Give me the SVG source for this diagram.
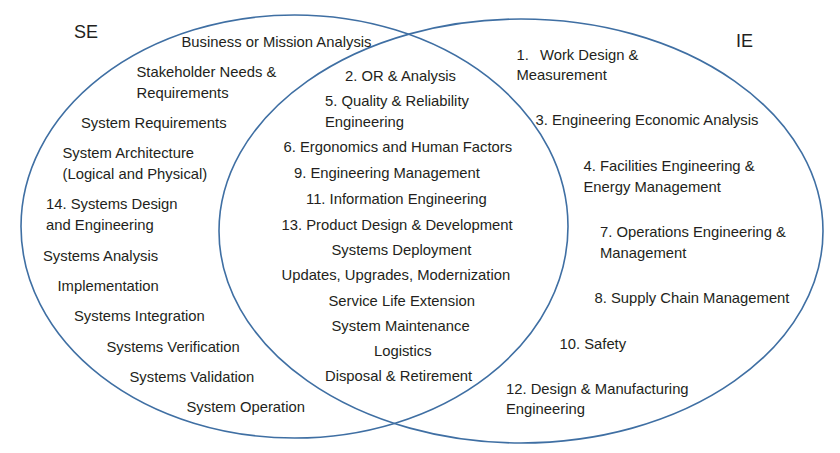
<svg xmlns="http://www.w3.org/2000/svg" width="840" height="453" viewBox="0 0 840 453">
<style>
.bg{fill:#ffffff}
.set{fill:none;stroke:#3f6fa3;stroke-width:1.6}
text{font-family:"Liberation Sans",Arial,Helvetica,sans-serif;font-size:14.8px;fill:#231f20}
.big{font-size:18px}
</style>
<rect class="bg" x="0" y="0" width="840" height="453"/>
<g id="connectors"></g>
<g id="se">
<ellipse class="set" cx="294.5" cy="226.5" rx="273.5" ry="211.5"/>
<text class="big" x="74" y="38">SE</text>
</g>
<g id="ie">
<ellipse class="set" cx="521" cy="231" rx="302" ry="212"/>
<text class="big" x="736" y="47">IE</text>
</g>
<g id="se-only">
<text x="181.5" y="47">Business or Mission Analysis</text>
<text x="136.5" y="77">Stakeholder Needs &amp;</text>
<text x="136.5" y="97.5">Requirements</text>
<text x="81" y="128">System Requirements</text>
<text x="62.5" y="158">System Architecture</text>
<text x="62.5" y="178.5">(Logical and Physical)</text>
<text x="46" y="209">14. Systems Design</text>
<text x="46" y="229.5">and Engineering</text>
<text x="43" y="260.5">Systems Analysis</text>
<text x="57.5" y="290.5">Implementation</text>
<text x="74" y="320.5">Systems Integration</text>
<text x="106.5" y="351.5">Systems Verification</text>
<text x="129.5" y="381.5">Systems Validation</text>
<text x="186.5" y="411.5">System Operation</text>
</g>
<g id="overlap">
<text x="345" y="80.5">2. OR &amp; Analysis</text>
<text x="325" y="106">5. Quality &amp; Reliability</text>
<text x="325" y="126.5">Engineering</text>
<text x="283.5" y="152">6. Ergonomics and Human Factors</text>
<text x="294" y="178">9. Engineering Management</text>
<text x="306" y="204">11. Information Engineering</text>
<text x="281.5" y="229.5">13. Product Design &amp; Development</text>
<text x="331.5" y="255">Systems Deployment</text>
<text x="281.5" y="280">Updates, Upgrades, Modernization</text>
<text x="328.5" y="305.5">Service Life Extension</text>
<text x="331.5" y="330.5">System Maintenance</text>
<text x="374" y="356">Logistics</text>
<text x="325" y="381">Disposal &amp; Retirement</text>
</g>
<g id="ie-only">
<text x="516.5" y="59.5">1.<tspan x="540">Work Design &amp;</tspan></text>
<text x="516.5" y="80">Measurement</text>
<text x="535.5" y="125">3. Engineering Economic Analysis</text>
<text x="583.5" y="171">4. Facilities Engineering &amp;</text>
<text x="583.5" y="191.5">Energy Management</text>
<text x="600" y="237">7. Operations Engineering &amp;</text>
<text x="600" y="257.5">Management</text>
<text x="594.5" y="303">8. Supply Chain Management</text>
<text x="559.5" y="348.5">10. Safety</text>
<text x="506" y="393.5">12. Design &amp; Manufacturing</text>
<text x="506" y="414">Engineering</text>
</g>
</svg>
